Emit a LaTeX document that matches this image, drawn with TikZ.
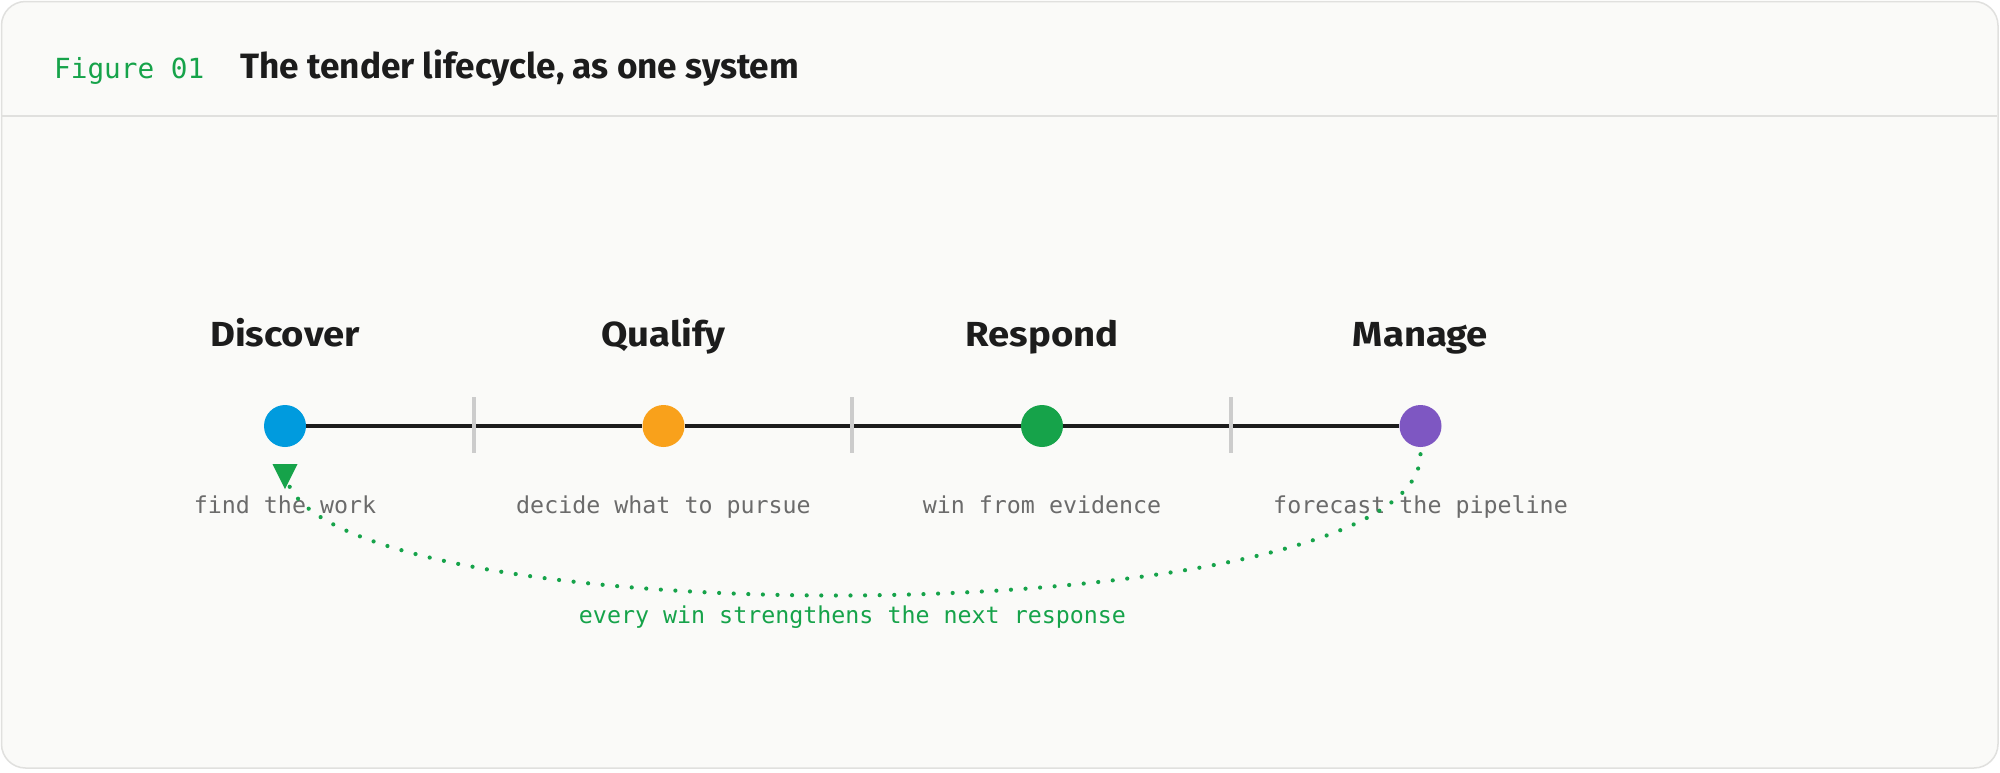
\documentclass[tikz,border=0pt]{standalone}
\usepackage{fontspec}
\setmainfont{Fira Sans}
\setmonofont{DejaVu Sans Mono}
\newfontfamily\stagefont{Fira Sans}[FakeStretch=1.1]
\definecolor{pagebg}{HTML}{FAFAF8}
\definecolor{frameline}{HTML}{E0E0DE}
\definecolor{ink}{HTML}{1C1C1C}
\definecolor{subgray}{HTML}{6B6B6B}
\definecolor{tickgray}{HTML}{CCCCCC}
\definecolor{accgreen}{HTML}{16A34A}
\definecolor{stblue}{HTML}{009BDE}
\definecolor{storange}{HTML}{F9A11B}
\definecolor{stgreen}{HTML}{16A34A}
\definecolor{stpurple}{HTML}{7E57C2}
\tikzset{
  stagedot/.style={circle, minimum size=42pt, inner sep=0pt, draw=none},
  stagename/.style={anchor=base, font=\stagefont\fontsize{34.8}{40}\selectfont\bfseries, text=ink, inner sep=0pt},
  stagesub/.style={anchor=base, font=\fontsize{23.3}{28}\selectfont\ttfamily, text=subgray, inner sep=0pt},
  timeline/.style={draw=ink, line width=4.5pt},
  tickmark/.style={draw=tickgray, line width=4pt},
  loopline/.style={draw=accgreen, line width=4.2pt, line cap=round, dash pattern=on 0pt off 14.6pt},
}
\begin{document}
\begin{tikzpicture}[x=1pt,y=-1pt]
\useasboundingbox (0,0) rectangle (2000,772);
\fill[white] (0,0) rectangle (2000,772);
\draw[fill=pagebg, draw=frameline, line width=1.5pt, rounded corners=24pt] (1.5,1.5) rectangle (1998,768);
\draw[draw=frameline, line width=1.5pt] (2.2,116) -- (1997.3,116);
% header
\node[anchor=base west, inner sep=0pt, font=\fontsize{27.7}{32}\selectfont\ttfamily, text=accgreen] (fig) at (54,78) {Figure 01};
\node[anchor=base west, inner sep=0pt, font=\fontsize{35.2}{42}\selectfont\bfseries, text=ink] (title) at (240,78) {The tender lifecycle, as one system};
% stages
\node[stagedot, fill=stblue] (d) at (285,426) {};
\node[stagedot, fill=storange] (q) at (663.5,426) {};
\node[stagedot, fill=stgreen] (r) at (1042,426) {};
\node[stagedot, fill=stpurple] (m) at (1420.5,426) {};
\draw[timeline] (d) -- (q) -- (r) -- (m);
\draw[tickmark] (474,397) -- (474,453);
\draw[tickmark] (852,397) -- (852,453);
\draw[tickmark] (1231,397) -- (1231,453);
\node[stagename] (dn) at (285,346) {Discover};
\node[stagename] (qn) at (663.5,346) {Qualify};
\node[stagename] (rn) at (1042,346) {Respond};
\node[stagename] (mn) at (1420.5,346) {Manage};
\node[stagesub] (ds) at (285,513) {find the work};
\node[stagesub] (qs) at (663.5,513) {decide what to pursue};
\node[stagesub] (rs) at (1042,513) {win from evidence};
\node[stagesub] (ms) at (1420.5,513) {forecast the pipeline};
% feedback loop
\coordinate (loopend) at ([yshift=-21pt]d.south);
\draw[loopline] ([yshift=-7pt]m.south) .. controls +(0,186) and +(0,172) .. (loopend);
\fill[accgreen] (loopend) ++(-12.5,-4) -- ++(25,0) -- ++(-12.5,25) -- cycle;
\node[anchor=base, inner sep=0pt, font=\fontsize{23.3}{28}\selectfont\ttfamily, text=accgreen] (looplabel) at (852.5,623) {every win strengthens the next response};
\end{tikzpicture}
\end{document}
